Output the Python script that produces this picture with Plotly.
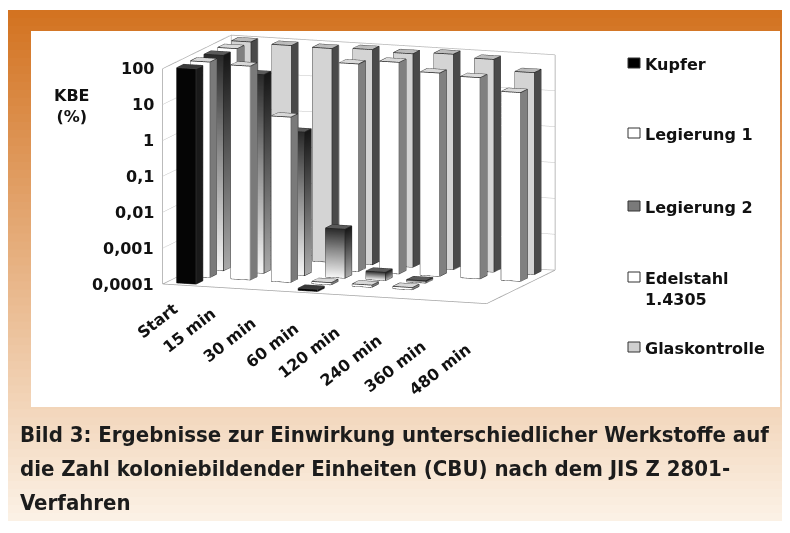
import numpy as np
import plotly.graph_objects as go

# ---------------- data ----------------
categories = ["Start", "15 min", "30 min", "60 min", "120 min", "240 min", "360 min", "480 min"]
series_names = ["Kupfer", "Legierung 1", "Legierung 2", "Edelstahl<br>1.4305", "Glaskontrolle"]
kupfer = [100, None, None, 0.0001, None, None, None, None]
legierung1 = [100, 90, 4, 0.0001, 0.0001, 0.0001, None, None]
legierung2 = [100, 34, 1, 0.0023, 0.00017, 0.0001, None, None]
edelstahl = [100, None, None, 60, 78, 46, 40, 18]
glaskontrolle = [100, 93, 90, 98, 88, 100, 84, 42]
tick_values = [0.0001, 0.001, 0.01, 0.1, 1, 10, 100]
tick_labels = ["0,0001", "0,001", "0,01", "0,1", "1", "10", "100"]
caption_lines = [
    "Bild 3: Ergebnisse zur Einwirkung unterschiedlicher Werkstoffe auf",
    "die Zahl koloniebildender Einheiten (CBU) nach dem JIS Z 2801-",
    "Verfahren",
]

series = [kupfer, legierung1, legierung2, edelstahl, glaskontrolle]
ZMIN = np.log10(tick_values[0])
NX, NY, NZ = len(categories), len(series), np.log10(tick_values[-1]) - ZMIN

W, H = 790, 533
OFF = 8  # page body margin: figure is drawn 8px right/down in the window

def px(x):
    return (x - OFF) / W

def py(y):
    return 1 - (y - OFF) / H

def zval(v):
    return np.log10(v) - ZMIN

BW, BD = 0.48, 0.5
FLAT = 0.06

# ---------------- camera fit (orthographic) ----------------
# frame corners, bar feet and bar tops as seen in the reference picture (screen px)
corners = [([0, 0, 0], (165, 286)), ([0, 0, NZ], (163, 63)), ([0, NY, NZ], (248, 39)),
           ([NX, NY, NZ], (557, 53)), ([NX, 0, 0], (500, 325)), ([NX, NY, 0], (553, 262))]
feet = [([0.5, 0.25, 0], (188, 283)), ([3.5, 0.25, 0], (310, 298)), ([3.5, 1.25, 0], (326, 283)),
        ([4.5, 1.25, 0], (366, 290)), ([5.5, 1.25, 0], (408, 295)), ([3.5, 2.25, 0], (340, 272)),
        ([4.5, 2.25, 0], (380, 277)), ([5.5, 2.25, 0], (420, 282)), ([4.5, 3.25, 0], (393, 265)),
        ([5.5, 3.25, 0], (432, 270)), ([6.5, 3.25, 0], (472, 275)), ([7.5, 3.25, 0], (514, 278))]
glas_top_px = [(259, 42), (296, 45), (333, 48), (372, 48), (412, 52), (451, 51), (491, 56), (532, 67)]
edel_top_px = {3: (357, 61), 4: (397, 59), 5: (438, 68), 6: (479, 73), 7: (521, 87)}
tops = [([0.6, 1.75, NZ], (204, 58)), ([0.6, 2.75, NZ], (224, 53)), ([0.6, 3.75, NZ], (240, 48))]
tops += [([c + 0.6, 4.75, zval(glaskontrolle[c])], glas_top_px[c]) for c in range(NX)]
tops += [([c + 0.6, 3.75, zval(edelstahl[c])], pxy) for c, pxy in edel_top_px.items()]
tops += [([1.6, 1.75, zval(legierung1[1])], (246, 63)), ([2.6, 1.75, zval(legierung1[2])], (287, 113)),
         ([1.6, 2.75, zval(legierung2[1])], (265, 72)), ([2.6, 2.75, zval(legierung2[2])], (305, 128))]
key_pts = [([0.26, 0.25, NZ], (174, 66)), ([0.74, 0.25, NZ], (194, 66)), ([0.26, 0.25, 0], (178, 283))]
allpts = corners + feet + tops + key_pts
fit_data = np.array([a for a, _ in allpts], float)
fit_px = np.array([b for _, b in allpts], float)
fit_w = np.array([1.0] * len(corners) + [1.0] * len(feet) + [1.3] * len(tops) + [2.2] * len(key_pts))

def cam(p):
    phi, th = p[0], p[1]
    d = np.array([np.cos(th) * np.sin(phi), -np.cos(th) * np.cos(phi), np.sin(th)])
    cen = np.array(p[2:5])
    return cen + 3.0 * d, cen

def project(p, pts):
    eye, cen = cam(p)
    asp = np.array(p[5:8])
    P = (np.asarray(pts, float) / np.array([NX, NY, NZ]) - 0.5) * asp
    f = cen - eye
    f = f / np.linalg.norm(f)
    s = np.cross(f, [0, 0, 1.0])
    s = s / np.linalg.norm(s)
    u = np.cross(s, f)
    d = P - eye
    xc, yc = d @ s, d @ u
    return np.stack([W / 2 + xc * H / 2 + OFF, H / 2 - yc * H / 2 + OFF], 1)

def resid(p):
    return ((project(p, fit_data) - fit_px) * fit_w[:, None]).ravel()

def fit(p0):
    p = np.array(p0, float)
    lam = 1e-2
    r = resid(p)
    cost = r @ r
    for _ in range(400):
        J = np.zeros((len(r), len(p)))
        for k in range(len(p)):
            dp = np.zeros(len(p))
            dp[k] = 1e-6
            J[:, k] = (resid(p + dp) - r) / 1e-6
        A = J.T @ J
        g = J.T @ r
        ok = False
        while lam < 1e10:
            step = np.linalg.solve(A + lam * (np.diag(np.diag(A)) + 1e-6 * np.eye(len(p))), -g)
            pn = p + step
            rn = resid(pn)
            cn = rn @ rn
            if np.isfinite(cn) and cn < cost:
                p, r, cost = pn, rn, cn
                lam = max(lam / 3, 1e-9)
                ok = True
                break
            lam *= 4
        if not ok or cost < 1e-6:
            break
    return p, cost

best = None
for phi0, th0 in [(0.4, 0.3), (0.3, 0.25), (0.5, 0.35)]:
    p, c = fit([phi0, th0, 0.1, 0.0, -0.1, 1.36, 0.63, 0.885])
    if best is None or c < best[1]:
        best = (p, c)
P = best[0]
E, C = cam(P)
eye = dict(x=E[0], y=E[1], z=E[2])
center = dict(x=C[0], y=C[1], z=C[2])
aspect = dict(x=P[5], y=P[6], z=P[7])

# ---------------- bars ----------------
styles = [
    dict(front="#050505", side="#1a1a1a", top="#3a3a3a", edge="#444444"),
    dict(front="#ffffff", side="#7a7a7a", top="#d8d8d8", edge="#222222"),
    None,  # gradient series
    dict(front="#ffffff", side="#808080", top="#dadada", edge="#222222"),
    dict(front="#d4d4d4", side="#4a4a4a", top="#bcbcbc", edge="#222222"),
]

FACES = {
    "front": [(0, 1, 5), (0, 5, 4)],
    "back": [(3, 2, 6), (3, 6, 7)],
    "left": [(0, 3, 7), (0, 7, 4)],
    "bottom": [(0, 1, 2), (0, 2, 3)],
    "right": [(1, 2, 6), (1, 6, 5)],
    "top": [(4, 5, 6), (4, 6, 7)],
}
EDGES = [(0, 1), (1, 2), (2, 3), (3, 0), (4, 5), (5, 6), (6, 7), (7, 4), (0, 4), (1, 5), (2, 6), (3, 7)]

def box_vertices(c, r, h):
    x0, x1 = c + 0.5 - BW / 2, c + 0.5 + BW / 2
    y0, y1 = r + 0.5 - BD / 2, r + 0.5 + BD / 2
    z0, z1 = 0.0, max(h, FLAT)
    return [(x0, y0, z0), (x1, y0, z0), (x1, y1, z0), (x0, y1, z0),
            (x0, y0, z1), (x1, y0, z1), (x1, y1, z1), (x0, y1, z1)]

traces = []
light = dict(ambient=1.0, diffuse=0.0, specular=0.0, roughness=1.0, fresnel=0.0)

for r, vals in enumerate(series):
    boxes = []
    for c, v in enumerate(vals):
        if v is None:
            continue
        boxes.append(box_vertices(c, r, zval(v)))
    if not boxes:
        continue
    groups = {"main": ["front", "back", "left", "bottom"], "right": ["right"], "top": ["top"]}
    for gname, fnames in groups.items():
        X, Y, Z, I, J, K, FC, INT = [], [], [], [], [], [], [], []
        for vb in boxes:
            base = len(X)
            zt = vb[4][2]
            for (x, y, z) in vb:
                X.append(x); Y.append(y); Z.append(z)
                INT.append(z / zt if zt > 0 else 0)
            for fn in fnames:
                for (a, b, cc) in FACES[fn]:
                    I.append(base + a); J.append(base + b); K.append(base + cc)
                    if styles[r] is not None:
                        key = "front" if gname == "main" else ("side" if gname == "right" else "top")
                        FC.append(styles[r][key])
        if styles[r] is None:
            if gname == "top":
                tr = go.Mesh3d(x=X, y=Y, z=Z, i=I, j=J, k=K, facecolor=["#5a5a5a"] * len(I),
                               flatshading=True, lighting=light, hoverinfo="skip", showscale=False)
            else:
                cs = [[0, "#f6f6f6"], [0.55, "#8c8c8c"], [1, "#2a2a2a"]] if gname == "main" else \
                     [[0, "#a8a8a8"], [1, "#161616"]]
                tr = go.Mesh3d(x=X, y=Y, z=Z, i=I, j=J, k=K, intensity=INT, intensitymode="vertex",
                               colorscale=cs, cmin=0, cmax=1, showscale=False,
                               flatshading=True, lighting=light, hoverinfo="skip")
        else:
            tr = go.Mesh3d(x=X, y=Y, z=Z, i=I, j=J, k=K, facecolor=FC, flatshading=True,
                           lighting=light, hoverinfo="skip", showscale=False)
        traces.append(tr)
    ex, ey, ez = [], [], []
    for vb in boxes:
        for a, b in EDGES:
            ex += [vb[a][0], vb[b][0], None]
            ey += [vb[a][1], vb[b][1], None]
            ez += [vb[a][2], vb[b][2], None]
    ecol = "#222222" if styles[r] is None else styles[r]["edge"]
    traces.append(go.Scatter3d(x=ex, y=ey, z=ez, mode="lines", line=dict(color=ecol, width=1.5),
                               hoverinfo="skip", showlegend=False))

# wall outline
wall = [((0, 0, 0), (0, 0, NZ)), ((0, 0, NZ), (0, NY, NZ)), ((0, NY, NZ), (NX, NY, NZ)),
        ((NX, NY, NZ), (NX, NY, 0)), ((NX, NY, 0), (NX, 0, 0)), ((NX, 0, 0), (0, 0, 0)),
        ((0, 0, 0), (0, NY, 0)), ((0, NY, 0), (NX, NY, 0)), ((0, NY, 0), (0, NY, NZ))]
wx, wy, wz = [], [], []
for a, b in wall:
    wx += [a[0], b[0], None]; wy += [a[1], b[1], None]; wz += [a[2], b[2], None]
traces.append(go.Scatter3d(x=wx, y=wy, z=wz, mode="lines", line=dict(color="#a4a4a4", width=1.5),
                           hoverinfo="skip", showlegend=False))

fig = go.Figure(traces)

# ---------------- scene labels ----------------
FONT = "DejaVu Sans, Arial, sans-serif"
scene_ann = []
for tv, tl in zip(tick_values, tick_labels):
    scene_ann.append(dict(x=0, y=0, z=zval(tv), text="<b>%s</b>" % tl, showarrow=False,
                          xanchor="right", yanchor="middle", xshift=-7,
                          font=dict(family=FONT, size=16, color="#111111")))

# category labels: anchored at each category on the floor edge, offset to the reference label spots
label_center_px = np.array([(158, 321), (189, 331), (230, 340), (272, 346), (309, 353),
                            (351, 361), (395, 367), (440, 370)], float)
anch = project(P, [[c + 0.5, 0, 0] for c in range(NX)])
for c, cat in enumerate(categories):
    scene_ann.append(dict(x=c + 0.5, y=0, z=0, text="<b>%s</b>" % cat, showarrow=False,
                          xanchor="center", yanchor="middle", textangle=-38,
                          xshift=float(label_center_px[c, 0] - anch[c, 0]),
                          yshift=float(anch[c, 1] - label_center_px[c, 1]),
                          font=dict(family=FONT, size=16, color="#111111")))

axis_common = dict(showgrid=False, showticklabels=False, ticks="", title=dict(text=""),
                   showbackground=True, backgroundcolor="white", showspikes=False,
                   zeroline=False, showline=False, autorange=False)

fig.update_layout(
    width=W, height=H, margin=dict(l=0, r=0, t=0, b=0), paper_bgcolor="white",
    showlegend=False, hovermode=False,
    scene=dict(
        domain=dict(x=[0, 1], y=[0, 1]),
        xaxis=dict(range=[0, NX], **axis_common),
        yaxis=dict(range=[0, NY], **axis_common),
        zaxis=dict(range=[0, NZ], **{**axis_common, "showgrid": True}, tickvals=list(range(int(NZ) + 1)),
                   gridcolor="#c2c2c2", gridwidth=1),
        aspectmode="manual", aspectratio=aspect,
        camera=dict(eye=eye, center=center, up=dict(x=0, y=0, z=1), projection=dict(type="orthographic")),
        bgcolor="rgba(0,0,0,0)",
        annotations=scene_ann,
        dragmode=False,
    ),
)

# ---------------- frame, legend, captions ----------------
shapes = []
top_rgb = np.array([211, 114, 32])
bot_rgb = np.array([252, 242, 231])
y_top, y_bot, nb = 10, 521, 64
for i in range(nb):
    ya = y_top + (y_bot - y_top) * i / nb
    yb = y_top + (y_bot - y_top) * (i + 1) / nb + 0.8
    col = top_rgb + (bot_rgb - top_rgb) * (i + 0.5) / nb
    shapes.append(dict(type="rect", xref="paper", yref="paper", x0=px(7), x1=px(W + OFF), y0=py(min(yb, y_bot)), y1=py(ya),
                       fillcolor="rgb(%d,%d,%d)" % tuple(col.astype(int)), line=dict(width=0), layer="below"))
shapes.append(dict(type="rect", xref="paper", yref="paper", x0=px(31), x1=px(780), y0=py(407), y1=py(31),
                   fillcolor="white", line=dict(width=0), layer="below"))

legend_fill = ["#000000", "#ffffff", "#7a7a7a", "#ffffff", "#cfcfcf"]
legend_y = [63, 133, 206, 277, 347]
ann = []
for name, fc, ly in zip(series_names, legend_fill, legend_y):
    shapes.append(dict(type="rect", xref="paper", yref="paper", x0=px(628), x1=px(640), y0=py(ly + 5), y1=py(ly - 5),
                       fillcolor=fc, line=dict(color="#333333", width=1), layer="below"))
    ann.append(dict(xref="paper", yref="paper", x=px(643), y=py(ly - 10), text="<b>%s</b>" % name,
                    showarrow=False, xanchor="left", yanchor="top", align="left",
                    font=dict(family=FONT, size=16, color="#111111")))

ann.append(dict(xref="paper", yref="paper", x=px(72), y=py(106), text="<b>KBE</b><br><b>(%)</b>",
                showarrow=False, xanchor="center", yanchor="middle", align="center",
                font=dict(family=FONT, size=16, color="#111111")))

cap_font = dict(family="DejaVu Sans Condensed, Liberation Sans Narrow, sans-serif", size=22, color="#1c1c1c")
for t, cy in zip(caption_lines, [434, 468, 502]):
    ann.append(dict(xref="paper", yref="paper", x=px(18), y=py(cy), text="<b>%s</b>" % t,
                    showarrow=False, xanchor="left", yanchor="middle", font=cap_font))

fig.update_layout(shapes=shapes, annotations=ann)
fig.write_html("out.html")
